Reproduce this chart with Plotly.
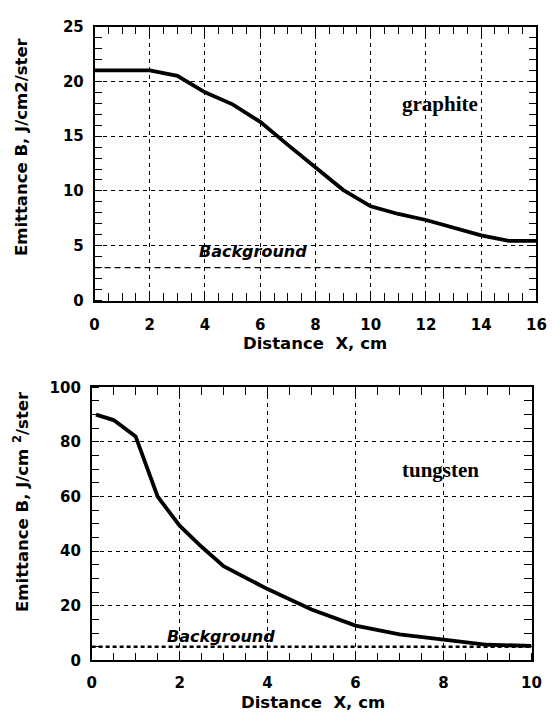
import plotly.graph_objects as go

# ---- data ----
graphite_x = [0, 2, 3, 4, 5, 6, 7, 8, 9, 10, 11, 12, 13, 14, 15, 16]
graphite_y = [21.0, 21.0, 20.5, 19.0, 17.9, 16.3, 14.2, 12.1, 10.1, 8.6, 7.9, 7.35, 6.65, 5.95, 5.45, 5.45]
graphite_bg = 3.0

tungsten_x = [0.1, 0.5, 1.0, 1.5, 2.0, 2.5, 3.0, 4.0, 5.0, 6.0, 7.0, 8.0, 9.0, 10.0]
tungsten_y = [90.0, 88.0, 82.0, 60.0, 49.3, 41.6, 34.5, 26.1, 18.6, 12.7, 9.5, 7.5, 5.7, 5.3]
tungsten_bg = 5.0

x_title = "Distance  X, cm"
y_title_top = "Emittance B, J/cm2/ster"
y_title_bot = "Emittance B, J/cm <sup>2</sup>/ster"

SANS = "DejaVu Sans, Arial, sans-serif"
SERIF = "Liberation Serif, Times New Roman, serif"

fig = go.Figure()

fig.add_trace(go.Scatter(x=graphite_x, y=graphite_y, mode="lines",
                         line=dict(color="black", width=3.8), xaxis="x", yaxis="y", showlegend=False))
fig.add_trace(go.Scatter(x=[0, 16], y=[graphite_bg, graphite_bg], mode="lines",
                         line=dict(color="black", width=1.3, dash="6px,4px"), xaxis="x", yaxis="y", showlegend=False))
fig.add_trace(go.Scatter(x=tungsten_x, y=tungsten_y, mode="lines",
                         line=dict(color="black", width=3.8), xaxis="x2", yaxis="y2", showlegend=False))
fig.add_trace(go.Scatter(x=[0, 10], y=[tungsten_bg, tungsten_bg], mode="lines",
                         line=dict(color="black", width=2.5, dash="4px,3px"), xaxis="x2", yaxis="y2", showlegend=False))

# invisible carriers for the standard secondary (top / right) tick axes
for xa, ya, xs, ys in [("x3", "y", graphite_x, graphite_y), ("x", "y3", graphite_x, graphite_y),
                       ("x4", "y2", tungsten_x, tungsten_y), ("x2", "y4", tungsten_x, tungsten_y)]:
    fig.add_trace(go.Scatter(x=xs, y=ys, mode="lines", line=dict(color="rgba(0,0,0,0)", width=0),
                             hoverinfo="skip", showlegend=False, xaxis=xa, yaxis=ya))

tickfont = dict(family=SANS, size=15, color="black", weight="bold")

def label_axis(domain, rng, dtick, minor, anchor, pad):
    return dict(domain=domain, range=rng, dtick=dtick, tick0=0, anchor=anchor,
                showline=True, linecolor="black", linewidth=1.5, mirror=True,
                ticks="outside", ticklen=pad, tickcolor="rgba(0,0,0,0)",
                minor=dict(dtick=minor, ticks="inside", ticklen=8, tickcolor="black",
                           tickwidth=1.3, showgrid=False),
                showgrid=True, gridcolor="black", gridwidth=1, griddash="4px,4px",
                zeroline=False, tickfont=tickfont)

def mirror_axis(rng, dtick, minor, anchor, side, overlaying):
    return dict(range=rng, dtick=dtick, tick0=0, anchor=anchor, side=side, overlaying=overlaying,
                showline=True, linecolor="black", linewidth=1.5,
                ticks="inside", ticklen=9, tickcolor="black", tickwidth=1.3,
                minor=dict(dtick=minor, ticks="inside", ticklen=8, tickcolor="black",
                           tickwidth=1.3, showgrid=False),
                showgrid=False, zeroline=False, showticklabels=True,
                tickfont=dict(family=SANS, size=6, color="rgba(0,0,0,0)"))

fig.update_layout(
    width=560, height=721,
    margin=dict(l=0, r=0, t=0, b=0),
    paper_bgcolor="white", plot_bgcolor="white",
    # top chart
    xaxis=label_axis([92/560, 546/560], [0, 16], 2, 0.5, "y", 10),
    yaxis=label_axis([1-299/721, 1-18/721], [0, 25], 5, 1, "x", 6),
    xaxis3=mirror_axis([0, 16], 2, 0.5, "y", "top", "x"),
    yaxis3=mirror_axis([0, 25], 5, 1, "x", "right", "y"),
    # bottom chart
    xaxis2=label_axis([89/560, 541/560], [0, 10], 2, 0.5, "y2", 8),
    yaxis2=label_axis([1-668/721, 1-388/721], [0, 100], 20, 5, "x2", 6),
    xaxis4=mirror_axis([0, 10], 2, 0.5, "y2", "top", "x2"),
    yaxis4=mirror_axis([0, 100], 20, 5, "x2", "right", "y2"),
)

tfont = dict(family=SANS, size=16.5, color="black", weight="bold")
ann = []
ann.append(dict(text=x_title, xref="paper", yref="paper", x=319/560, y=1-343/721,
                showarrow=False, font=tfont, xanchor="center", yanchor="middle"))
ann.append(dict(text=x_title, xref="paper", yref="paper", x=316/560, y=1-711/721,
                showarrow=False, font=tfont, xanchor="center", yanchor="middle"))
ann.append(dict(text=y_title_top, xref="paper", yref="paper", x=17/560, y=1-141/721,
                showarrow=False, textangle=-90, font=tfont, xanchor="center", yanchor="middle"))
ann.append(dict(text=y_title_bot, xref="paper", yref="paper", x=17/560, y=1-505/721,
                showarrow=False, textangle=-90, font=tfont, xanchor="center", yanchor="middle"))
ann.append(dict(text="<i>Background</i>", xref="x", yref="y", x=5.75, y=4.5, showarrow=False,
                font=dict(family=SANS, size=16, color="black", weight="bold")))
ann.append(dict(text="graphite", xref="x", yref="y", x=12.5, y=17.9, showarrow=False,
                font=dict(family=SERIF, size=21, color="black", weight="bold")))
ann.append(dict(text="<i>Background</i>", xref="x2", yref="y2", x=2.94, y=8.9, showarrow=False,
                font=dict(family=SANS, size=16, color="black", weight="bold")))
ann.append(dict(text="tungsten", xref="x2", yref="y2", x=7.94, y=69.6, showarrow=False,
                font=dict(family=SERIF, size=21, color="black", weight="bold")))
fig.update_layout(annotations=ann)

fig.write_html("out.html")
